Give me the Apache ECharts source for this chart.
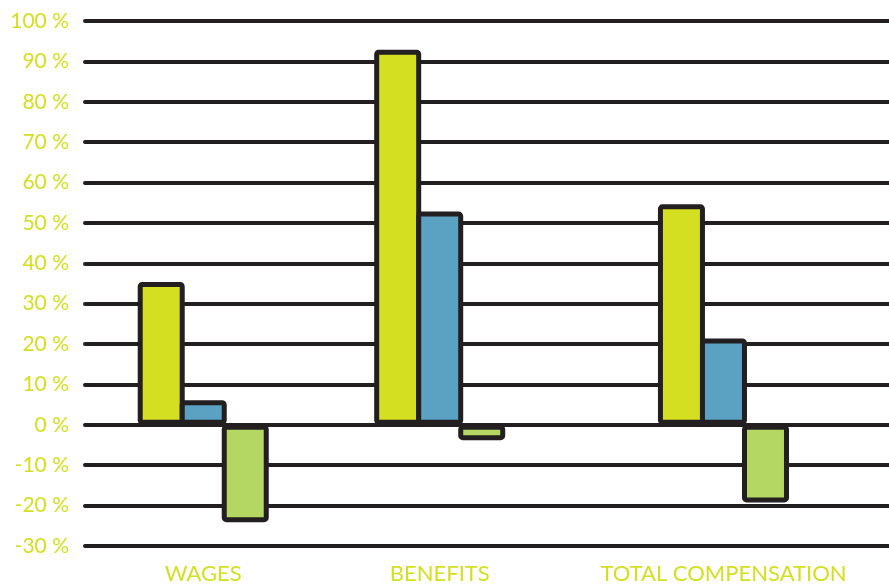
<!DOCTYPE html>
<html>
<head>
<meta charset="utf-8">
<script src="https://cdn.jsdelivr.net/npm/echarts@6/dist/echarts.min.js"></script>
<style>
  html, body { margin: 0; padding: 0; background: #fff; }
  #chart { width: 889px; height: 588px; }
</style>
</head>
<body>
<div id="chart"></div>
<script>
// categories and values (percent)
const categories = ["WAGES", "BENEFITS", "TOTAL COMPENSATION"];
const seriesA = [35.4, 92.9, 54.6];
const seriesB = [6.1, 52.8, 21.4];
const seriesC = [-24.1, -3.8, -19.2];

// the groups are not evenly spaced in the source, so place them on a finer slot grid
const slotCount = 17;
const slotOf = [2, 7, 13];

const toSlots = (values) => {
  const out = new Array(slotCount).fill("-");
  slotOf.forEach((s, i) => { out[s] = values[i]; });
  return out;
};
const slotLabels = new Array(slotCount).fill("");
slotOf.forEach((s, i) => { slotLabels[s] = categories[i]; });

const ink = "#231f20";
const labelColor = "#d4de22";

// neighbouring bars overlap by one border so they share a single outline
const barSeries = (values, color) => ({
  type: "bar",
  data: toSlots(values),
  barWidth: 47,
  barGap: "-10.6%",
  itemStyle: {
    color: color,
    borderColor: ink,
    borderWidth: 5,
    borderRadius: 2,
  },
});

const myChart = echarts.init(document.getElementById("chart"));

const option = {
  animation: false,
  grid: {
    left: 85,
    right: -6,
    top: 21,
    bottom: 42,
  },
  xAxis: {
    type: "category",
    data: slotLabels,
    axisLine: { show: false },
    axisTick: { show: false },
    axisLabel: {
      interval: 0,
      margin: 17,
      color: labelColor,
      fontFamily: "Lato",
      fontSize: 22,
    },
  },
  yAxis: {
    type: "value",
    min: -30,
    max: 100,
    interval: 10,
    axisLine: { show: false },
    axisTick: { show: false },
    axisLabel: {
      margin: 16,
      color: labelColor,
      fontFamily: "Lato",
      fontSize: 21,
      formatter: (v) => v + " %",
    },
    splitLine: {
      lineStyle: { color: ink, width: 4, cap: "round" },
    },
  },
  series: [
    barSeries(seriesA, "#d5df21"),
    barSeries(seriesB, "#5aa1c2"),
    barSeries(seriesC, "#b4d663"),
  ],
};

myChart.setOption(option);
</script>
</body>
</html>
